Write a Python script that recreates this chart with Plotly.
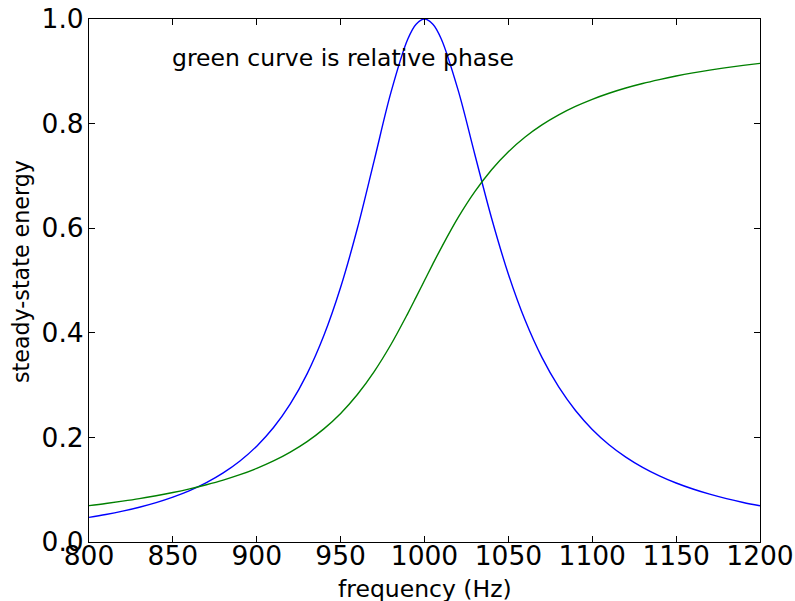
import plotly.graph_objects as go

freq = [800, 810, 820, 830, 840, 850, 860, 870, 880, 890, 900, 910, 920, 930, 940,
        950, 960, 970, 980, 990, 995, 1000, 1005, 1010, 1020, 1030, 1040, 1050, 1060,
        1070, 1080, 1090, 1100, 1110, 1120, 1130, 1140, 1150, 1160, 1170, 1180, 1190, 1200]

energy = [0.0471, 0.0526, 0.0590, 0.0665, 0.0753, 0.0858, 0.0983, 0.1135, 0.1321, 0.1549,
          0.1833, 0.2189, 0.2640, 0.3215, 0.3947, 0.4870, 0.5999, 0.7293, 0.8596, 0.9612,
          0.9901, 1.0000, 0.9901, 0.9619, 0.8644, 0.7410, 0.6190, 0.5120, 0.4238, 0.3529,
          0.2964, 0.2514, 0.2153, 0.1861, 0.1624, 0.1428, 0.1265, 0.1128, 0.1013, 0.0914,
          0.0829, 0.0756, 0.0692]

phase = [0.0696, 0.0736, 0.0781, 0.0830, 0.0885, 0.0946, 0.1016, 0.1095, 0.1184, 0.1287,
         0.1408, 0.1549, 0.1719, 0.1919, 0.2163, 0.2459, 0.2820, 0.3258, 0.3776, 0.4368,
         0.4682, 0.5000, 0.5318, 0.5625, 0.6201, 0.6699, 0.7118, 0.7462, 0.7744, 0.7975,
         0.8167, 0.8328, 0.8464, 0.8580, 0.8680, 0.8766, 0.8841, 0.8909, 0.8969, 0.9022,
         0.9070, 0.9113, 0.9152]

x_ticks = [800, 850, 900, 950, 1000, 1050, 1100, 1150, 1200]
y_ticks = [0.0, 0.2, 0.4, 0.6, 0.8, 1.0]

font = "DejaVu Sans"
W, H = 795, 601
ML, MR, MT, MB = 89, 35, 19, 59
PW, PH = W - ML - MR, H - MT - MB

fig = go.Figure()
fig.add_trace(go.Scatter(x=freq, y=energy, mode="lines",
                         line=dict(color="#0000ff", width=1.4, shape="spline"),
                         showlegend=False))
fig.add_trace(go.Scatter(x=freq, y=phase, mode="lines",
                         line=dict(color="#008000", width=1.4, shape="spline"),
                         showlegend=False))

axis_common = dict(showline=True, linecolor="black", linewidth=1, mirror="ticks",
                   ticks="inside", ticklen=6, tickcolor="black", tickwidth=1,
                   showgrid=False, zeroline=False, automargin=False,
                   tickfont=dict(family=font, size=26.5, color="black"))

fig.update_xaxes(range=[800, 1200], tickvals=x_ticks,
                 ticktext=[str(v) for v in x_ticks], ticklabelstandoff=-10,
                 **axis_common)
fig.update_yaxes(range=[0, 1], tickvals=y_ticks,
                 ticktext=[f"{v:.1f}" for v in y_ticks], ticklabelstandoff=-1,
                 **axis_common)

# axis titles placed as annotations
fig.add_annotation(x=(424.5 - ML) / PW, y=(H - MB - 589) / PH, xref="paper", yref="paper",
                   text="frequency (Hz)", showarrow=False, xanchor="center", yanchor="middle",
                   font=dict(family=font, size=23.5, color="black"))
fig.add_annotation(x=(21 - ML) / PW, y=(H - MB - 272) / PH, xref="paper", yref="paper",
                   text="steady-state energy", showarrow=False, textangle=-90,
                   xanchor="center", yanchor="middle",
                   font=dict(family=font, size=22.2, color="black"))

fig.add_annotation(x=850, y=0.925, xref="x", yref="y", text="green curve is relative phase",
                   showarrow=False, xanchor="left", yanchor="middle", xshift=-3,
                   font=dict(family=font, size=23.5, color="black"))

fig.update_layout(width=W, height=H, paper_bgcolor="white", plot_bgcolor="white",
                  margin=dict(l=ML, r=MR, t=MT, b=MB))

fig.write_html("out.html", config={"displayModeBar": False},
               post_script="document.body.style.margin='0px';document.body.style.overflow='hidden';")
